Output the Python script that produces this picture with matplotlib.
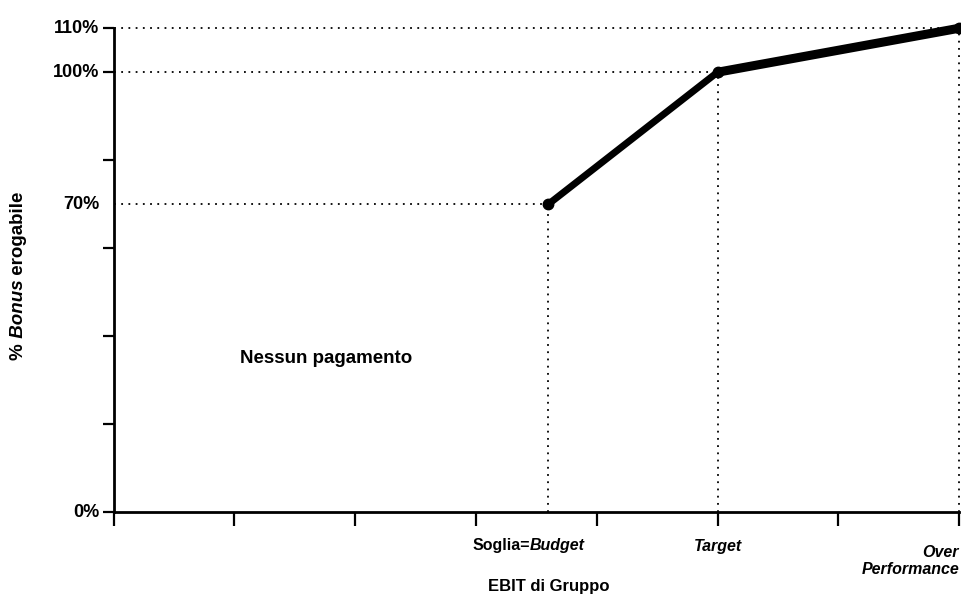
import matplotlib.pyplot as plt

plt.rcParams['font.family'] = ['Liberation Sans', 'DejaVu Sans']

# Curva del bonus (posizione EBIT in unità d'asse, % bonus)
ebit_pos = [3.6, 5.0, 7.0]
bonus_pct = [70, 100, 110]

y_ticks = [0, 20, 40, 60, 80, 100, 110]
y_labels = {0: '0%', 70: '70%', 100: '100%', 110: '110%'}
x_ticks = [0, 1, 2, 3, 4, 5, 6, 7]

fig = plt.figure(figsize=(9.62, 6.01), dpi=100)
ax = fig.add_axes([0.118, 0.148, 0.879, 0.805])

ax.set_xlim(0, 7)
ax.set_ylim(0, 110)

# linee tratteggiate di riferimento
for x, y in zip(ebit_pos, bonus_pct):
    ax.plot([0, x], [y, y], color='black', lw=1.3, ls=(0, (1, 3)), zorder=1, clip_on=False)
    ax.plot([x, x], [0, y], color='black', lw=1.3, ls=(0, (1, 3)), zorder=1, clip_on=False)

# curva
ax.plot(ebit_pos[:2], bonus_pct[:2], color='black', lw=5, solid_capstyle='butt', zorder=3)
ax.plot(ebit_pos[1:], bonus_pct[1:], color='black', lw=6.5, solid_capstyle='butt', zorder=3,
        clip_on=False)
ax.plot(ebit_pos, bonus_pct, 'o', color='black', ms=7.5, zorder=4, clip_on=False)

ax.text(1.05, 35, 'Nessun pagamento', fontsize=13.5, fontweight='bold', va='center', ha='left')

for s in ['top', 'right']:
    ax.spines[s].set_visible(False)
for s in ['left', 'bottom']:
    ax.spines[s].set_linewidth(2)

ax.set_yticks(y_ticks)
ax.set_yticklabels([])
ax.set_xticks(x_ticks)
ax.set_xticklabels([])
ax.tick_params(axis='y', length=8, width=1.6)
ax.tick_params(axis='x', length=10, width=1.6)

for y, lab in y_labels.items():
    ax.text(-0.12, y, lab, fontsize=13, fontweight='bold', ha='right', va='center')

xfs = 11.5
t1 = ax.text(2.97, -5.8, 'Soglia=', fontsize=xfs, fontweight='bold', ha='left', va='top')
ax.annotate('Budget', xy=(1, 0), xycoords=t1, fontsize=xfs, fontweight='bold',
            style='italic', ha='left', va='bottom')
ax.text(5.0, -6.2, 'Target', fontsize=xfs, fontweight='bold', style='italic',
        ha='center', va='top')
ax.text(7.0, -7.6, 'Over\nPerformance', fontsize=xfs, fontweight='bold', style='italic',
        ha='right', va='top', multialignment='right', linespacing=1.1)

ax.text(3.1, -17.0, 'EBIT di Gruppo', fontsize=12, fontweight='bold', ha='left', va='center')

# etichetta asse y composta (Bonus in corsivo), letta dal basso verso l'alto
yfs = 13.5
p1 = fig.text(0.019, 0.401, '%', rotation=90, fontsize=yfs, fontweight='bold',
              ha='center', va='bottom')
p2 = ax.annotate(' Bonus', xy=(0.5, 1), xycoords=p1, rotation=90, fontsize=yfs,
                 fontweight='bold', style='italic', ha='center', va='bottom')
ax.annotate(' erogabile', xy=(0.5, 1), xycoords=p2, rotation=90, fontsize=yfs,
            fontweight='bold', ha='center', va='bottom')

fig.savefig('out.png', dpi=100)
